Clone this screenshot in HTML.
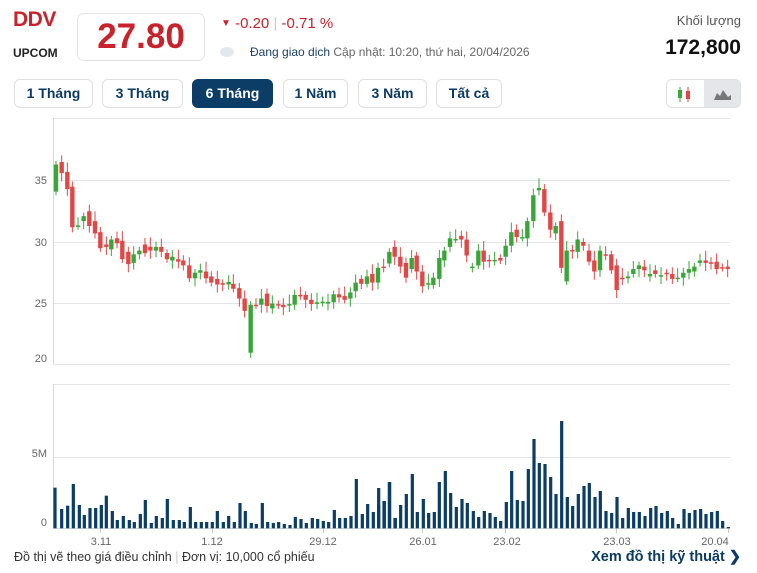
<!DOCTYPE html>
<html><head><meta charset="utf-8">
<style>
body{margin:0;width:757px;height:573px;background:#fff;font-family:"Liberation Sans",sans-serif;position:relative;overflow:hidden}
.a{position:absolute;white-space:nowrap}
.btn{position:absolute;top:79px;height:29px;border:1px solid #dcdfe3;border-radius:6px;box-sizing:border-box;font-size:14px;font-weight:bold;color:#0b3a63;text-align:center;line-height:27px}
</style></head><body>
<div class="a" style="left:13px;top:8px;font-size:21px;font-weight:bold;color:#c8232c;letter-spacing:-0.5px">DDV</div>
<div class="a" style="left:13px;top:46px;font-size:12px;font-weight:bold;color:#222">UPCOM</div>
<div class="a" style="left:77px;top:13px;width:128px;height:48px;border:1px solid #e2e4e8;border-radius:7px;box-sizing:border-box;text-align:center;font-size:35px;font-weight:bold;color:#c8232c;line-height:46px">27.80</div>
<div class="a" style="left:221px;top:15px;font-size:15px;color:#c8232c"><span style="font-size:10px;position:relative;top:-2px">▼</span> -0.20 <span style="color:#ccc">|</span> -0.71 %</div>
<div class="a" style="left:220px;top:47px;width:14px;height:10px;border-radius:50%;background:#e3e8ee"></div>
<div class="a" style="left:250px;top:45px;font-size:12px;color:#1d3f66">Đang giao dịch <span style="color:#666">Cập nhật: 10:20, thứ hai, 20/04/2026</span></div>
<div class="a" style="right:16px;top:13px;font-size:13px;color:#555">Khối lượng</div>
<div class="a" style="right:16px;top:36px;font-size:21px;font-weight:bold;color:#111">172,800</div>
<div class="btn" style="left:14px;width:79px">1 Tháng</div>
<div class="btn" style="left:102px;width:81px">3 Tháng</div>
<div class="btn" style="left:192px;width:81px;background:#0b3d66;color:#fff;border-color:#0b3d66">6 Tháng</div>
<div class="btn" style="left:283px;width:65px">1 Năm</div>
<div class="btn" style="left:358px;width:69px">3 Năm</div>
<div class="btn" style="left:436px;width:66px">Tất cả</div>
<div class="a" style="left:666px;top:79px;width:75px;height:29px;border:1px solid #dcdfe3;border-radius:6px;box-sizing:border-box;overflow:hidden">
<div style="position:absolute;left:37px;top:0;width:38px;height:29px;background:#e4e6ea"></div>
<svg width="75" height="29" style="position:absolute;left:0;top:0">
<line x1="13" y1="7" x2="13" y2="22" stroke="#3aa63a"/><rect x="11" y="10" width="4" height="8" fill="#3aa63a"/>
<line x1="21" y1="7" x2="21" y2="22" stroke="#e04545"/><rect x="19" y="11" width="4" height="8" fill="#e04545"/>
<path d="M47 20 L50 13 L53 16 L56 10 L61 17 L64 15 L64 20 Z" fill="#777"/>
</svg></div>
<svg id="c" class="a" style="left:0;top:0" width="757" height="573"></svg>
<div class="a" style="left:14px;top:550px;font-size:12.5px;color:#333">Đồ thị vẽ theo giá điều chỉnh <span style="color:#ccc">|</span> Đơn vị: 10,000 cổ phiếu</div>
<div class="a" style="right:16px;top:549px;font-size:14.5px;font-weight:bold;color:#0b3a63">Xem đồ thị kỹ thuật ❯</div>
<script>
var s='',G='#3aa63a',R='#e04848',L='#e3e5e8';
function ln(x1,y1,x2,y2,c){s+='<line x1="'+x1+'" y1="'+y1+'" x2="'+x2+'" y2="'+y2+'" stroke="'+c+'" stroke-width="1"/>';}
function tx(x,y,t,a){s+='<text x="'+x+'" y="'+y+'" font-size="11" fill="#666" text-anchor="'+(a||'end')+'" font-family="Liberation Sans">'+t+'</text>';}
[180.5,242.5,303.5,364.5].forEach(function(y){ln(53,y,730,y,L)});
ln(53,118.5,730,118.5,L);ln(53,384.5,730,384.5,L);ln(53,457.5,730,457.5,L);ln(53,528.5,730,528.5,'#cfd6df');
ln(53.5,118,53.5,364,'#cfd9e6');ln(53.5,384,53.5,528,'#cfd9e6');
tx(47,184,'35');tx(47,246,'30');tx(47,307,'25');tx(47,362,'20');tx(47,457,'5M');tx(47,526,'0');
[[101,'3.11'],[212,'1.12'],[323,'29.12'],[423,'26.01'],[507,'23.02'],[617,'23.03'],[715,'20.04']].forEach(function(d){tx(d[0],545,d[1],'middle')});
[100,212,323,422,505,616,728].forEach(function(x){ln(x+.5,528,x+.5,533,'#ccc')});
function Y(p){return 242-(p-30)*12.3;}
// zoom2 candles [zx,o,c]
var c2=[[48,34.1,36.3],[65,36.5,35.6],[82,35.7,34.3],[97,34.5,31.2],[114,31.3,31.35],[131,31.7,32.1],[148,32.5,31.3],[165,31.7,30.7],[181,30.8,29.5],[199,29.8,29.6],[214,29.4,30.2],[231,30.3,29.9],[247,30.1,28.6],[265,29.2,28.2],[281,28.3,29.0],[298,29.0,29.3],[315,29.8,29.1],[331,29.6,29.3],[348,29.3,29.6],[364,29.6,29.2],[381,29.1,28.6],[397,28.5,28.8],[415,28.6,28.4],[430,28.5,28.1],[448,28.1,27.05],[465,27.05,27.5],[481,27.5,27.7],[498,27.6,27.05],[514,27.2,26.7],[532,27.0,26.55],[548,26.65,26.55],[566,26.55,26.75],[580,26.6,26.2],[598,26.25,25.4],[614,25.4,24.4],[632,21.0,24.9],[648,24.9,24.85],[664,24.9,25.4],[681,25.8,24.8],[697,24.6,25.0],[715,24.95,24.85],[730,24.9,24.7],[748,24.85,24.95],[764,24.9,25.7],[781,25.7,25.6],[797,25.7,25.3],[814,25.3,24.95],[831,24.97,25.1],[848,25.05,25.15],[864,25.1,25.12],[881,25.1,25.75],[897,25.75,25.5],[914,25.6,25.3],[931,25.4,25.9],[947,26.0,26.7],[964,27.0,26.6],[981,26.6,27.2],[997,27.4,26.7],[1014,26.7,27.9],[1031,28.0,27.95]];
var c3=[[28,28.25,29.2],[44,29.6,28.8],[61,28.8,28.0],[78,28.3,27.1],[95,27.8,28.7],[110,28.9,27.6],[127,27.6,26.4],[145,26.55,26.65],[160,26.5,27.1],[178,27.0,28.7],[193,28.5,29.3],[210,29.6,30.3],[227,30.2,30.25],[244,30.5,30.2],[260,30.2,28.9],[277,27.95,28.0],[295,28.1,29.3],[311,29.3,28.4],[328,28.55,28.45],[344,28.5,28.55],[361,28.7,28.5],[377,28.8,29.7],[394,29.7,30.8],[410,31.0,30.4],[427,30.35,30.4],[442,30.3,31.7],[460,31.7,33.8],[477,34.2,34.4],[493,34.3,32.4],[511,32.4,31.0],[527,30.7,31.3],[544,31.7,27.9],[560,26.8,29.3],[577,29.35,29.3],[593,29.2,30.2],[610,30.0,29.7],[627,29.3,28.4],[643,28.5,27.6],[660,27.7,29.3],[677,29.0,28.95],[694,29.0,27.7],[710,28.1,26.1],[727,27.1,27.05],[744,27.05,27.2],[760,27.4,27.8],[777,27.8,28.1],[793,28.0,27.7],[810,27.2,27.4],[826,27.7,27.4],[843,27.25,27.3],[860,27.5,27.4],[877,27.4,27.0],[893,27.05,27.1],[910,27.1,27.5],[927,27.5,27.8],[943,27.6,28.0],[960,28.3,28.5],[977,28.5,28.3],[993,28.35,28.3],[1010,28.4,27.8],[1027,27.95,27.9],[1043,28.0,27.8]];
var C=[];c2.forEach(function(d){C.push([40+d[0]/3,d[1],d[2]])});c3.forEach(function(d){C.push([380+d[0]/3,d[1],d[2]])});
C.forEach(function(d,i){var x=d[0],o=d[1],c=d[2],col=c>=o?G:R;var hi=Math.max(o,c)+0.3+((i*7)%5)*0.12,lo=Math.min(o,c)-0.3-((i*3)%4)*0.12;
var y1=Y(Math.max(o,c)),y2=Y(Math.min(o,c));if(y2-y1<1.5)y2=y1+1.5;
s+='<line x1="'+x+'" y1="'+Y(hi)+'" x2="'+x+'" y2="'+Y(lo)+'" stroke="'+col+'" stroke-width="1"/>';
s+='<rect x="'+(x-2.2)+'" y="'+y1+'" width="4.4" height="'+(y2-y1)+'" fill="'+col+'"/>';});
var v4=[[165,443],[185,507],[203,497],[220,432],[238,495],[253,525],[270,504],[287,504],[304,495],[319,467],[337,513],[352,540],[370,528],[388,540],[403,546],[421,522],[436,480],[454,549],[469,528],[487,534],[502,477],[520,540],[538,540],[553,546],[571,501],[587,546],[604,546],[620,546],[637,546],[652,513],[670,546],[686,528],[703,546],[720,489],[736,513],[754,549],[769,552],[787,489],[803,546],[820,549],[836,546],[853,552],[870,555],[886,531],[903,537],[919,549],[937,534],[953,537],[970,543],[986,546],[1003,510],[1019,534],[1036,534],[1053,528],[1069,417],[1087,522],[1103,492],[1120,516],[1136,444],[1153,483],[1169,426],[1186,534]];
var v5=[[-4,495],[12,483],[28,426],[45,534],[62,495],[79,462],[97,402],[112,516],[130,477],[146,519],[163,516],[178,426],[196,393],[212,459],[229,501],[246,477],[262,489],[280,513],[296,531],[313,513],[330,519],[346,531],[362,543],[379,486],[395,393],[412,480],[429,483],[445,387],[462,297],[478,369],[495,372],[512,411],[528,462],[545,243],[562,471],[578,498],[595,462],[612,438],[628,429],[645,471],[661,453],[678,513],[695,519],[711,471],[728,534],[745,504],[761,516],[778,516],[795,528],[812,504],[828,498],[845,519],[862,513],[878,534],[895,552],[912,507],[928,519],[945,510],[962,507],[978,522],[995,516],[1012,513],[1028,543],[1045,561]];
function vb(x,t){var y=340+t/3;s+='<rect x="'+(x-1.6)+'" y="'+y+'" width="3.2" height="'+(528.3-y)+'" fill="#0b3d66"/>';}
v4.forEach(function(d){vb(d[0]/3,d[1])});v5.forEach(function(d){vb(380+d[0]/3,d[1])});
document.getElementById('c').innerHTML=s;
</script>
</body></html>
